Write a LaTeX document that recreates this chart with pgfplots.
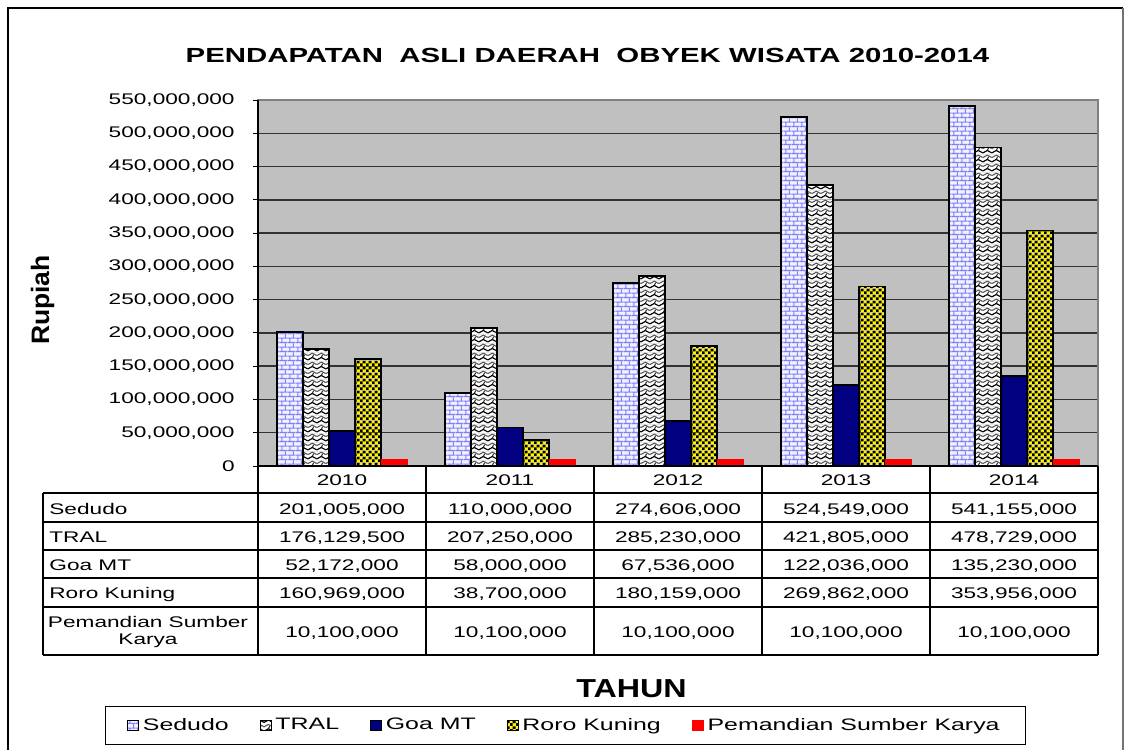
\documentclass[border=0pt]{standalone}
\usepackage{pgfplots}
\pgfplotsset{compat=1.18}
\usepackage{fontspec}
\setmainfont{Liberation Sans}
\newfontfamily\tfont[FakeStretch=1.47]{Liberation Sans}
\newfontfamily\lfont[FakeStretch=1.5]{Liberation Sans}
\newfontfamily\ttlfont[FakeStretch=1.44]{Liberation Sans}
\newfontfamily\yfont[FakeStretch=1.05]{Liberation Sans}
\newfontfamily\xfont[FakeStretch=1.24]{Liberation Sans}
\usetikzlibrary{patterns.meta}
\definecolor{plotgray}{HTML}{C0C0C0}
\definecolor{navy}{HTML}{000080}
\definecolor{brickblue}{HTML}{7D7DFF}
\definecolor{brickbg}{HTML}{F2F2FF}

\tikzdeclarepattern{
  name=mybricks, type=colored,
  bounding box={(0pt,0pt) and (4pt,4.4pt)},
  tile size={(4pt,4.4pt)},
  code={
    \fill[brickbg] (0pt,0pt) rectangle (4pt,4.4pt);
    \draw[brickblue, line width=0.55pt] (0pt,0.25pt) -- (4pt,0.25pt) (0pt,2.45pt) -- (4pt,2.45pt)
      (1pt,0.25pt) -- (1pt,2.45pt) (3pt,2.45pt) -- (3pt,4.4pt);
  }
}
\tikzdeclarepattern{
  name=myweave, type=colored,
  bounding box={(0pt,0pt) and (4.4pt,4.4pt)},
  tile size={(4.4pt,4.4pt)},
  code={
    \fill[white] (0pt,0pt) rectangle (4.4pt,4.4pt);
    \draw[black, line width=0.6pt] (0pt,0.6pt) -- (2.2pt,1.8pt) -- (4.4pt,0.6pt);
    \draw[black!65, line width=0.55pt] (0pt,2.8pt) -- (2.2pt,4pt) -- (4.4pt,2.8pt);
    \draw[black!85, line width=0.5pt] (2.2pt,1.8pt) -- (2.9pt,3.2pt);
  }
}
\tikzdeclarepattern{
  name=mychecker, type=colored,
  bounding box={(0pt,0pt) and (3pt,3pt)},
  tile size={(3pt,3pt)},
  code={
    \fill[yellow] (0pt,0pt) rectangle (3pt,3pt);
    \fill[black] (0pt,0pt) rectangle (1.5pt,1.5pt);
    \fill[black] (1.5pt,1.5pt) rectangle (3pt,3pt);
  }
}

\begin{document}
\begin{tikzpicture}
\path[use as bounding box, fill=white] (0pt,0pt) rectangle (562.5pt,-375pt);

\begin{axis}[
  at={(129pt,-233pt)}, anchor=south west,
  scale only axis, width=420pt, height=183pt,
  xmin=-0.5, xmax=4.5, ymin=0, ymax=550000000,
  ybar=0pt, bar width=13pt,
  axis background/.style={fill=plotgray},
  axis line style={draw=black!50, line width=0.6pt},
  xtick=\empty,
  ytick={0,50000000,100000000,150000000,200000000,250000000,300000000,350000000,400000000,450000000,500000000,550000000},
  yticklabels={0,{50,000,000},{100,000,000},{150,000,000},{200,000,000},{250,000,000},{300,000,000},{350,000,000},{400,000,000},{450,000,000},{500,000,000},{550,000,000}},
  scaled y ticks=false,
  ymajorgrids,
  major grid style={draw=black!80, line width=0.75pt},
  tick align=outside, ytick pos=left, major tick length=2.5pt,
  tick style={black, line width=0.5pt},
  yticklabel style={font=\tfont\fontsize{7.7pt}{9pt}\selectfont, inner sep=0pt, xshift=-9pt},
  legend columns=5,
  legend style={at={(0.366,-0.709)}, anchor=center, draw=black, line width=0.5pt,
    font=\lfont\fontsize{8.3pt}{9.5pt}\selectfont, inner xsep=11pt, inner ysep=3.5pt,
    /tikz/every even column/.append style={column sep=13.5pt},
    /tikz/every odd column/.append style={column sep=0pt}},
  legend image code/.code={\draw[#1, line width=0.45pt] (0pt,-2.7pt) rectangle (5.4pt,2.7pt);},
]
\addplot[draw=black, line width=0.9pt, pattern=mybricks] coordinates {(0,201005000) (1,110000000) (2,274606000) (3,524549000) (4,541155000)};
\addplot[draw=black, line width=0.9pt, pattern=myweave] coordinates {(0,176129500) (1,207250000) (2,285230000) (3,421805000) (4,478729000)};
\addplot[draw=black, line width=0.9pt, fill=navy] coordinates {(0,52172000) (1,58000000) (2,67536000) (3,122036000) (4,135230000)};
\addplot[draw=black, line width=0.9pt, pattern=mychecker] coordinates {(0,160969000) (1,38700000) (2,180159000) (3,269862000) (4,353956000)};
\addplot[draw=red, fill=red, line width=0.4pt] coordinates {(0,10100000) (1,10100000) (2,10100000) (3,10100000) (4,10100000)};
\legend{Sedudo, TRAL, Goa MT, Roro Kuning, Pemandian Sumber Karya}
\end{axis}

\begin{scope}[x=0.5pt,y=-0.5pt]
% outer frame
\draw[black, line width=0.8pt] (8,750) -- (8,8) -- (1123,8);
\draw[black!55, line width=0.8pt] (1123,8) -- (1123,750);
% axis left and bottom in black
\draw[black, line width=0.8pt] (258,100) -- (258,466) -- (1098,466);
% data table
\draw[black, line width=0.7pt]
  (43,493) -- (1098,493) (43,522) -- (1098,522) (43,550) -- (1098,550)
  (43,578) -- (1098,578) (43,607) -- (1098,607) (43,655) -- (1098,655)
  (43,493) -- (43,655);
\foreach \xx in {258,426,594,762,930,1098} {\draw[black, line width=0.7pt] (\xx,466) -- (\xx,655);}
\tikzset{tc/.style={anchor=base, inner sep=0pt, font=\tfont\fontsize{7.7pt}{9pt}\selectfont},
         tl/.style={anchor=base west, inner sep=0pt, font=\tfont\fontsize{7.7pt}{9pt}\selectfont}}
\foreach \yr [count=\i from 0] in {2010,2011,2012,2013,2014} {\node[tc] at (342+168*\i,485) {\yr};}
\node[tl] at (49,514) {Sedudo};
\node[tl] at (49,542) {TRAL};
\node[tl] at (49,570) {Goa MT};
\node[tl] at (49,598) {Roro Kuning};
\node[tc] at (148,627) {Pemandian Sumber};
\node[tc] at (148,644) {Karya};
\foreach \v [count=\i from 0] in {201{,}005{,}000,110{,}000{,}000,274{,}606{,}000,524{,}549{,}000,541{,}155{,}000} {\node[tc] at (342+168*\i,514) {\v};}
\foreach \v [count=\i from 0] in {176{,}129{,}500,207{,}250{,}000,285{,}230{,}000,421{,}805{,}000,478{,}729{,}000} {\node[tc] at (342+168*\i,542) {\v};}
\foreach \v [count=\i from 0] in {52{,}172{,}000,58{,}000{,}000,67{,}536{,}000,122{,}036{,}000,135{,}230{,}000} {\node[tc] at (342+168*\i,570) {\v};}
\foreach \v [count=\i from 0] in {160{,}969{,}000,38{,}700{,}000,180{,}159{,}000,269{,}862{,}000,353{,}956{,}000} {\node[tc] at (342+168*\i,598) {\v};}
\foreach \v [count=\i from 0] in {10{,}100{,}000,10{,}100{,}000,10{,}100{,}000,10{,}100{,}000,10{,}100{,}000} {\node[tc] at (342+168*\i,637) {\v};}
% titles
\node[anchor=base, inner sep=0pt] at (587.5,62) {\ttlfont\bfseries\fontsize{10.2pt}{12pt}\selectfont PENDAPATAN\ \ ASLI DAERAH\ \ OBYEK WISATA 2010-2014};
\node[anchor=base, inner sep=0pt, rotate=90] at (49,300) {\yfont\bfseries\fontsize{12.6pt}{14pt}\selectfont Rupiah};
\node[anchor=base, inner sep=0pt] at (631.5,697) {\xfont\bfseries\fontsize{13pt}{15pt}\selectfont TAHUN};
\end{scope}
\end{tikzpicture}
\end{document}
